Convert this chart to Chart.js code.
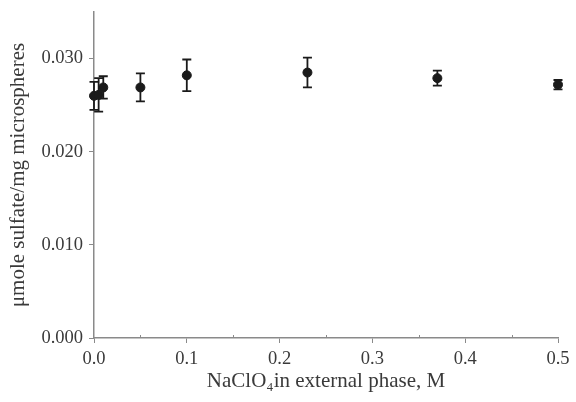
<!DOCTYPE html>
<html>
<head>
<meta charset="utf-8">
<script src="https://cdn.jsdelivr.net/npm/chart.js@4"></script>
<style>
  body { margin: 0; background: #fff; }
  #wrap { width: 576px; height: 402px; }
</style>
</head>
<body>
<div id="wrap"><canvas id="chart"></canvas></div>
<script>
// NaClO4 concentration (M) and sulfate loading
const concentrations = [0, 0.005, 0.01, 0.05, 0.1, 0.23, 0.37, 0.5];
const sulfate = [0.0260, 0.0261, 0.0269, 0.0269, 0.0282, 0.0285, 0.0279, 0.0272];
const sulfateErr = [0.0015, 0.0018, 0.0012, 0.0015, 0.0017, 0.0016, 0.0008, 0.0005];
const yTicks = [0, 0.01, 0.02, 0.03];
const xTicks = [0, 0.1, 0.2, 0.3, 0.4, 0.5];
const xMinorTicks = [0.05, 0.15, 0.25, 0.35, 0.45];

const axisColor = '#8a8a8a';
const textColor = '#3a3a3a';
const serif = "'Liberation Serif', 'DejaVu Serif', serif";

// draws error bars and the small inward minor ticks
const errorBars = {
  id: 'errorBars',
  beforeDatasetsDraw(chart) {
    const ctx = chart.ctx;
    const xs = chart.scales.x, ys = chart.scales.y;
    ctx.save();
    ctx.strokeStyle = '#1a1a1a';
    ctx.lineWidth = 1.8;
    concentrations.forEach((c, i) => {
      const px = xs.getPixelForValue(c);
      const top = ys.getPixelForValue(sulfate[i] + sulfateErr[i]);
      const bot = ys.getPixelForValue(sulfate[i] - sulfateErr[i]);
      ctx.beginPath();
      ctx.moveTo(px, top); ctx.lineTo(px, bot);
      ctx.moveTo(px - 4.5, top); ctx.lineTo(px + 4.5, top);
      ctx.moveTo(px - 4.5, bot); ctx.lineTo(px + 4.5, bot);
      ctx.stroke();
    });
    // minor ticks on x axis, pointing inward
    ctx.strokeStyle = axisColor;
    ctx.lineWidth = 1;
    const y0 = ys.getPixelForValue(0);
    xMinorTicks.forEach(v => {
      const px = Math.round(xs.getPixelForValue(v)) + 0.5;
      ctx.beginPath();
      ctx.moveTo(px, y0); ctx.lineTo(px, y0 - 3);
      ctx.stroke();
    });
    ctx.restore();
  }
};

new Chart(document.getElementById('chart'), {
  type: 'scatter',
  data: {
    datasets: [{
      data: concentrations.map((c, i) => ({ x: c, y: sulfate[i] })),
      backgroundColor: '#1a1a1a',
      borderColor: '#1a1a1a',
      pointRadius: 4.5,
      pointHoverRadius: 4.5,
      showLine: false,
      clip: false
    }]
  },
  options: {
    responsive: true,
    maintainAspectRatio: false,
    animation: false,
    layout: { padding: { top: 12, right: 18, left: 0, bottom: 0 } },
    plugins: { legend: { display: false }, tooltip: { enabled: false } },
    scales: {
      x: {
        type: 'linear',
        min: 0,
        max: 0.5,
        afterFit: s => { s.height = 64; s.paddingLeft = 0; s.paddingRight = 0; },
        afterBuildTicks: s => { s.ticks = xTicks.map(v => ({ value: v })); },
        grid: {
          drawOnChartArea: false,
          drawTicks: true,
          tickLength: 5,
          color: axisColor
        },
        border: { color: axisColor, width: 1.5 },
        ticks: {
          color: textColor,
          font: { family: serif, size: 18.5 },
          padding: 5,
          maxRotation: 0,
          callback: v => v.toFixed(1)
        },
        title: {
          display: true,
          text: 'NaClO₄in external phase, M',
          color: textColor,
          font: { family: serif, size: 21 },
          padding: { top: 0, bottom: 8 }
        }
      },
      y: {
        min: 0,
        max: 0.035,
        afterFit: s => { s.width = 94; s.paddingTop = 0; s.paddingBottom = 0; },
        afterBuildTicks: s => { s.ticks = yTicks.map(v => ({ value: v })); },
        grid: {
          drawOnChartArea: false,
          drawTicks: true,
          tickLength: 5,
          color: axisColor
        },
        border: { color: axisColor, width: 1.5 },
        ticks: {
          color: textColor,
          font: { family: serif, size: 18.5 },
          padding: 6,
          callback: v => v.toFixed(3)
        },
        title: {
          display: true,
          text: 'μmole sulfate/mg microspheres',
          color: textColor,
          font: { family: serif, size: 21 },
          padding: { top: 6, bottom: 4 }
        }
      }
    }
  },
  plugins: [errorBars]
});
</script>
</body>
</html>
